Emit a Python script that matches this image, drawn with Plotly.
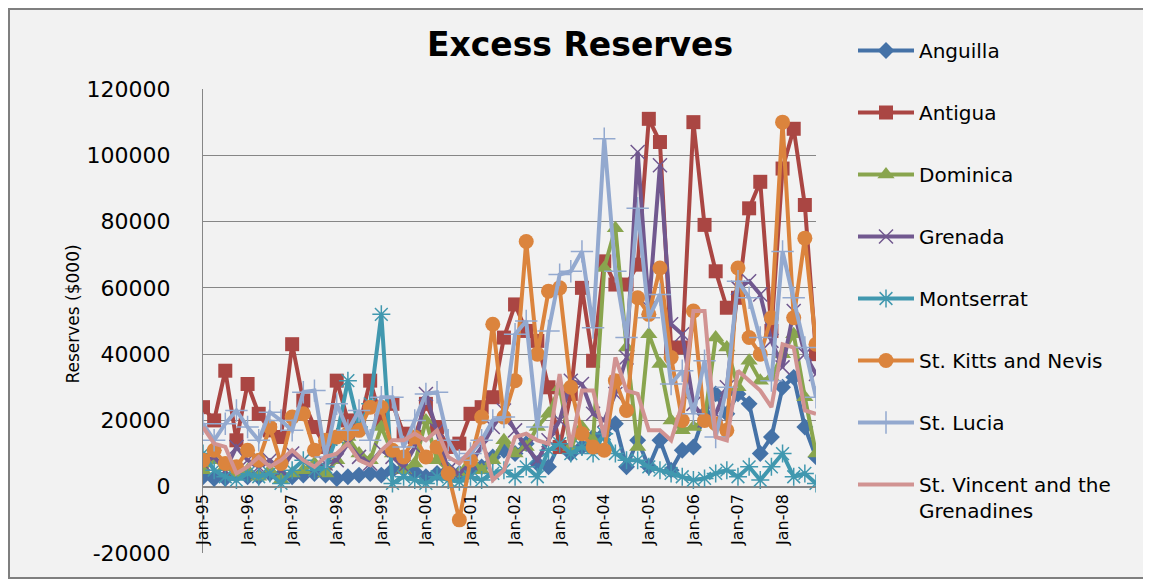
import plotly.graph_objects as go

# quarterly categories Jan-95 .. Oct-08
YEARS = ['95', '96', '97', '98', '99', '00', '01', '02', '03', '04', '05', '06', '07', '08']
MONTHS = ['Jan', 'Apr', 'Jul', 'Oct']
QUARTERS = [f"{m}-{y}" for y in YEARS for m in MONTHS]
TICK_LABELS = [f"Jan-{y}" for y in YEARS]
Y_TICKS = [-20000, 0, 20000, 40000, 60000, 80000, 100000, 120000]
Y_TICK_TEXT = ['-20000', '0', '20000', '40000', '60000', '80000', '100000', '120000']

anguilla = [3000, 2500, 2500, 3500, 3000, 3000, 4000, 3500, 3000, 3500,
            4000, 3500, 2500, 3000, 3500, 4000, 3500, 5000, 5500, 4500,
            3000, 4000, 5000, 4000, 5000, 6000, 9000, 11000, 10000, 13000,
            7000, 6000, 13000, 10000, 12000, 15000, 16000, 19000, 6000, 14000,
            6000, 14000, 5000, 11000, 12000, 22000, 28000, 22000, 28000, 25000,
            10000, 15000, 30000, 33000, 18000, 9000]
antigua = [24000, 20000, 35000, 14000, 31000, 22000, 17000, 15000, 43000, 26000,
           18000, 12000, 32000, 20000, 18000, 32000, 20000, 25000, 16000, 15000,
           25000, 18000, 12000, 13000, 22000, 24000, 27000, 45000, 55000, 47000,
           44000, 30000, 12000, 28000, 60000, 38000, 68000, 61000, 61000, 67000,
           111000, 104000, 42000, 42000, 110000, 79000, 65000, 54000, 57000, 84000,
           92000, 47000, 96000, 108000, 85000, 40000]
dominica = [5000, 8000, 6000, 4000, 5000, 3000, 5000, 2000, 4000, 5000,
            7000, 4000, 8000, 15000, 10000, 8000, 18000, 10000, 5000, 7000,
            20000, 8000, 5000, 4000, 9000, 5000, 8000, 14000, 10000, 12000,
            18000, 22000, 30000, 12000, 18000, 14000, 66000, 78000, 42000, 12000,
            46000, 37000, 20000, 17000, 18000, 20000, 45000, 42000, 30000, 38000,
            32000, 33000, 40000, 46000, 27000, 10000]
grenada = [7000, 9000, 5000, 12000, 8000, 6000, 8000, 5000, 10000, 8000,
           5000, 7000, 8000, 13000, 9000, 7000, 11000, 9000, 6000, 12000,
           28000, 17000, 5000, 4000, 7000, 12000, 18000, 23000, 17000, 12000,
           8000, 14000, 20000, 32000, 31000, 22000, 20000, 28000, 39000, 101000,
           54000, 97000, 49000, 46000, 25000, 20000, 22000, 30000, 60000, 62000,
           58000, 44000, 36000, 53000, 40000, 34000]
montserrat = [10000, 5000, 3000, 2000, 4000, 3000, 4000, 1000, 5000, 8000,
              5000, 6000, 15000, 32000, 18000, 25000, 52000, 1000, 3000, 2000,
              1000, 3000, 2000, 1500, 3000, 2000, 4000, 5000, 3000, 6000,
              3000, 11000, 13000, 10000, 12000, 10000, 16000, 10000, 8000, 8000,
              6000, 5000, 4000, 3000, 2000, 2500, 4000, 5000, 3000, 6000,
              2000, 6000, 10000, 3000, 4000, 1000]
st_kitts = [8000, 11000, 7000, 6000, 11000, 8000, 18000, 7000, 21000, 22000,
            11000, 14000, 15000, 16000, 17000, 24000, 24000, 11000, 9000, 15000,
            9000, 12000, 4000, -10000, 8000, 21000, 49000, 21000, 32000, 74000,
            40000, 59000, 60000, 30000, 16000, 12000, 11000, 32000, 23000, 57000,
            52000, 66000, 39000, 20000, 53000, 20000, 19000, 17000, 66000, 45000,
            40000, 51000, 110000, 51000, 75000, 43000]
st_lucia = [19000, 14000, 19000, 23000, 18000, 14000, 22500, 20000, 17000, 28500,
            29000, 9000, 25000, 17000, 23000, 14000, 27000, 27000, 12000, 20000,
            28000, 28500, 14000, 8000, 10000, 14000, 20000, 21000, 46000, 50000,
            18000, 47000, 64000, 65000, 71000, 48000, 105000, 65000, 45000, 84000,
            51000, 58000, 31000, 35000, 22000, 38000, 15000, 30000, 62000, 57000,
            45000, 32000, 71000, 57000, 42000, 27000]
st_vincent = [18000, 13000, 12000, 4000, 6000, 9000, 6000, 8000, 11000, 8000,
              6000, 9000, 10000, 13000, 8000, 6500, 11000, 14000, 14000, 16000,
              14000, 17000, 9000, 7000, 11000, 15000, 2000, 5000, 15000, 16000,
              14000, 13000, 34000, 12000, 29000, 29000, 15000, 39000, 29000, 28000,
              17000, 17000, 14000, 25000, 53000, 53000, 15000, 14000, 35000, 32000,
              29000, 24000, 43000, 42000, 23000, 22000]

series = [
    ("Anguilla", anguilla, '#4572A7', 'diamond', 13),
    ("Antigua", antigua, '#AA4643', 'square', 14),
    ("Dominica", dominica, '#89A54E', 'triangle-up', 15),
    ("Grenada", grenada, '#71588F', 'x-thin-open', 14),
    ("Montserrat", montserrat, '#4198AF', 'asterisk-open', 15),
    ("St. Kitts and Nevis", st_kitts, '#DB843D', 'circle', 15),
    ("St. Lucia", st_lucia, '#93A9CF', 'cross-thin-open', 16),
    ("St. Vincent and the<br>Grenadines", st_vincent, '#D19392', None, 0),
]

# la pagina deja 8px de margen en body: todo se desplaza
OFF = 8
W, H = 1151 - OFF, 579 - OFF
PL, PR = 203, 816      # borde izq/der del area de datos (pantalla)
GT, GB = 20, 559       # caja de trazado usada para el papel (pantalla)
YT, YB = 89, 553       # 120000 y -20000 (pantalla)


def px_x(sx):
    return (sx - PL) / (PR - PL)


def px_y(sy):
    return (GB - sy) / (GB - GT)


fig = go.Figure()
for i, (nombre, vals, color, simbolo, tam) in enumerate(series):
    if simbolo is None:
        fig.add_trace(go.Scatter(x=QUARTERS, y=vals, name=nombre, mode='lines',
                                 line=dict(color=color, width=4), legendgroup=str(i)))
    elif simbolo.endswith('-open'):
        fig.add_trace(go.Scatter(x=QUARTERS, y=vals, name=nombre, mode='lines+markers',
                                 line=dict(color=color, width=4), legendgroup=str(i),
                                 marker=dict(symbol=simbolo, size=tam, color=color,
                                             line=dict(color=color, width=1.5))))
    else:
        fig.add_trace(go.Scatter(x=QUARTERS, y=vals, name=nombre, mode='lines+markers',
                                 line=dict(color=color, width=4), legendgroup=str(i),
                                 marker=dict(symbol=simbolo, size=tam, color=color,
                                             line=dict(width=0))))

# marco exterior del grafico
fig.add_shape(type='rect', xref='paper', yref='paper', x0=px_x(9), x1=px_x(1147),
              y0=px_y(578), y1=px_y(9),
              line=dict(color='#7F7F7F', width=2), fillcolor='#F2F2F2', layer='below')

fig.add_annotation(text="Reserves ($000)", xref='paper', yref='paper', x=px_x(60), y=px_y(386),
                   textangle=-90, showarrow=False, font=dict(size=17, color='#000000'))

dom = [px_y(YB), px_y(YT)]
pos0 = dom[0] + (dom[1] - dom[0]) * 20000 / 140000

fig.update_layout(
    width=W, height=H,
    margin=dict(l=PL - OFF, r=W - (PR - OFF), t=GT - OFF, b=H - (GB - OFF), autoexpand=False),
    paper_bgcolor='#FFFFFF', plot_bgcolor='rgba(0,0,0,0)',
    font=dict(family='DejaVu Sans', color='#000000'),
    title=dict(text="<b>Excess Reserves</b>", x=(580 - OFF) / W, xref='container',
               xanchor='center', y=1 - (44 - OFF) / H, yanchor='middle',
               font=dict(size=33, color='#000000')),
    xaxis=dict(type='category', range=[0, 55], tickmode='array', tickvals=TICK_LABELS,
               ticktext=TICK_LABELS, tickangle=-90, anchor='free', position=pos0,
               showgrid=False, showline=True, linecolor='#868686', linewidth=1,
               ticks='', tickfont=dict(size=16)),
    yaxis=dict(domain=dom, range=[-20000, 120001], tickmode='array', tickvals=Y_TICKS,
               ticktext=Y_TICK_TEXT, showgrid=True,
               gridcolor='#868686', gridwidth=1, zeroline=False, showline=True,
               linecolor='#868686', linewidth=1, ticks='', ticklabelstandoff=27,
               tickfont=dict(size=22)),
    legend=dict(x=px_x(853), y=px_y(31), xanchor='left', yanchor='top', font=dict(size=20),
                itemwidth=56, bgcolor='rgba(0,0,0,0)', tracegroupgap=33, valign='top'),
    showlegend=True,
)

fig.write_html("out.html")
